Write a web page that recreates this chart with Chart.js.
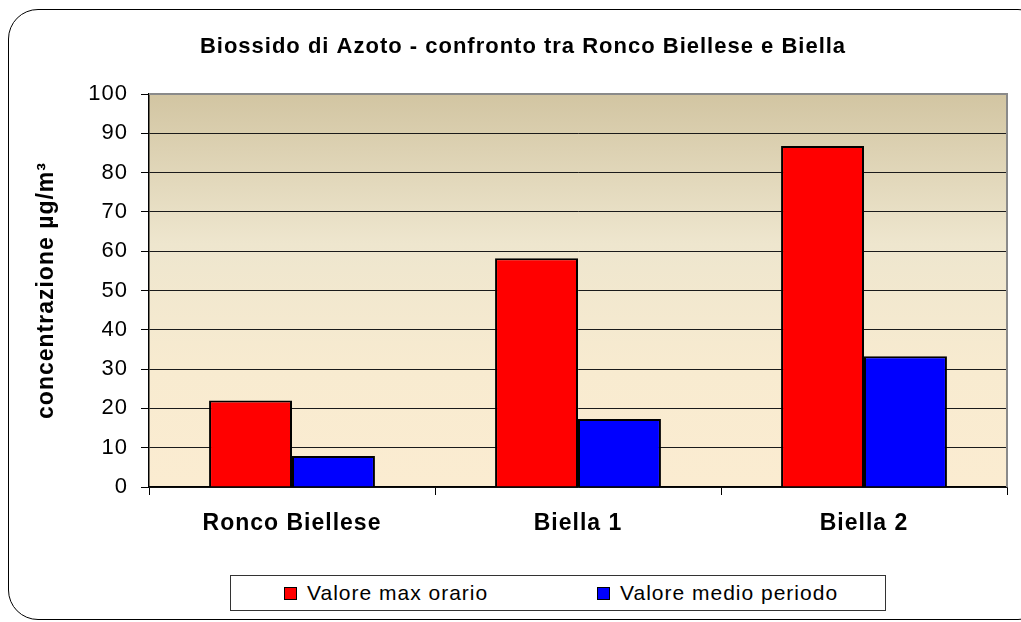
<!DOCTYPE html>
<html>
<head>
<meta charset="utf-8">
<script src="https://cdn.jsdelivr.net/npm/chart.js@4/dist/chart.umd.min.js"></script>
<style>
  html, body { margin: 0; padding: 0; background: #fff; }
  #wrap { position: relative; width: 1021px; height: 622px; overflow: hidden;
          font-family: "Liberation Sans", Arial, sans-serif; }
  #frame { position: absolute; left: 8px; top: 9px; width: 1040px; height: 611px;
           border: 1px solid #000; border-radius: 30px; box-sizing: border-box; }
  #chart { position: absolute; left: 0; top: 0; }
  #legend { position: absolute; left: 230px; top: 575px; width: 656px; height: 36px;
            border: 1px solid #333; box-sizing: border-box; background: #fff; }
  .item { position: absolute; top: 0; height: 34px; line-height: 34px; font-size: 21px;
          letter-spacing: 1px; color: #000; white-space: nowrap; }
  .item i { display: inline-block; width: 11px; height: 11px; border: 1px solid #000;
            margin-right: 10px; vertical-align: middle; position: relative; top: -1px; }
</style>
</head>
<body>
<div id="wrap">
  <div id="frame"></div>
  <canvas id="chart" width="1021" height="622"></canvas>
  <div id="legend"></div>
</div>
<script>
  // ---- Data ----
  const categories   = ['Ronco Biellese', 'Biella 1', 'Biella 2'];
  const maxOrario    = [22, 58.2, 86.8];
  const medioPeriodo = [7.9, 17.3, 33.3];
  const seriesNames  = ['Valore max orario', 'Valore medio periodo'];
  const seriesColors = ['#ff0000', '#0000ff'];
  const yMin = 0, yMax = 100, yStep = 10;
  const chartTitle = 'Biossido di Azoto - confronto tra Ronco Biellese e Biella';
  const yTitle = 'concentrazione µg/m³';

  const FONT = '"Liberation Sans", Arial, sans-serif';

  // ---- Plot background gradient, grey plot border, title ----
  const plotDecor = {
    id: 'plotDecor',
    beforeDraw(chart) {
      const { ctx, chartArea: a } = chart;
      ctx.letterSpacing = '1px';
      const g = ctx.createLinearGradient(0, a.top, 0, a.bottom);
      g.addColorStop(0, '#d2c5a2');
      g.addColorStop(0.38, '#eee6ce');
      g.addColorStop(0.7, '#f8ebd0');
      g.addColorStop(1, '#fbecd1');
      ctx.save();
      ctx.fillStyle = g;
      ctx.fillRect(a.left, a.top, a.width, a.height);
      ctx.restore();
    },
    afterDraw(chart) {
      const { ctx, chartArea: a } = chart;
      ctx.save();
      ctx.strokeStyle = '#8a8a8a';
      ctx.lineWidth = 2;
      ctx.beginPath();
      ctx.moveTo(a.left, a.top);
      ctx.lineTo(a.right, a.top);
      ctx.lineTo(a.right, a.bottom);
      ctx.stroke();
      ctx.font = 'bold 22px ' + FONT;
      ctx.fillStyle = '#000';
      ctx.textAlign = 'center';
      ctx.textBaseline = 'middle';
      ctx.fillText(chartTitle, 523, 47);
      ctx.restore();
    }
  };

  const values = [maxOrario, medioPeriodo];

  new Chart(document.getElementById('chart'), {
    type: 'bar',
    data: {
      labels: categories,
      datasets: seriesNames.map((name, i) => ({
        label: name,
        data: values[i],
        backgroundColor: seriesColors[i],
        borderColor: '#000',
        borderWidth: 2,
        categoryPercentage: 0.58,
        barPercentage: 1.0,
      })),
    },
    options: {
      responsive: false,
      animation: false,
      devicePixelRatio: 1,
      layout: { padding: { left: 0, top: 94, right: 14, bottom: 60 } },
      plugins: {
        legend: { display: false },
        title: { display: false },
        tooltip: { enabled: false },
      },
      scales: {
        x: {
          grid: { drawOnChartArea: false, tickLength: 8, color: '#000', offset: true },
          border: { color: '#000', width: 1.5 },
          ticks: { color: '#000', font: { family: FONT, size: 23, weight: 'bold' }, padding: 15 },
          afterFit: s => { s.height = 75; },
        },
        y: {
          min: yMin,
          max: yMax,
          ticks: { stepSize: yStep, color: '#000', font: { family: FONT, size: 22 }, padding: 13 },
          grid: {
            color: c => (c.tick && c.tick.value === yMax ? '#8a8a8a' : '#1a1a1a'),
            tickColor: '#000',
            tickLength: 8,
            lineWidth: 1,
          },
          border: { color: '#000', width: 1.5 },
          title: {
            display: true,
            text: yTitle,
            color: '#000',
            font: { family: FONT, size: 23, weight: 'bold' },
            padding: { top: 33 },
          },
          afterFit: s => { s.width = 149; },
        },
      },
    },
    plugins: [plotDecor],
  });

  // ---- Legend (boxed, as in the original) ----
  const legend = document.getElementById('legend');
  const itemX = [53, 366];
  seriesNames.forEach((name, i) => {
    const el = document.createElement('div');
    el.className = 'item';
    el.style.left = itemX[i] + 'px';
    el.innerHTML = `<i style="background:${seriesColors[i]}"></i>${name}`;
    legend.appendChild(el);
  });
</script>
</body>
</html>
